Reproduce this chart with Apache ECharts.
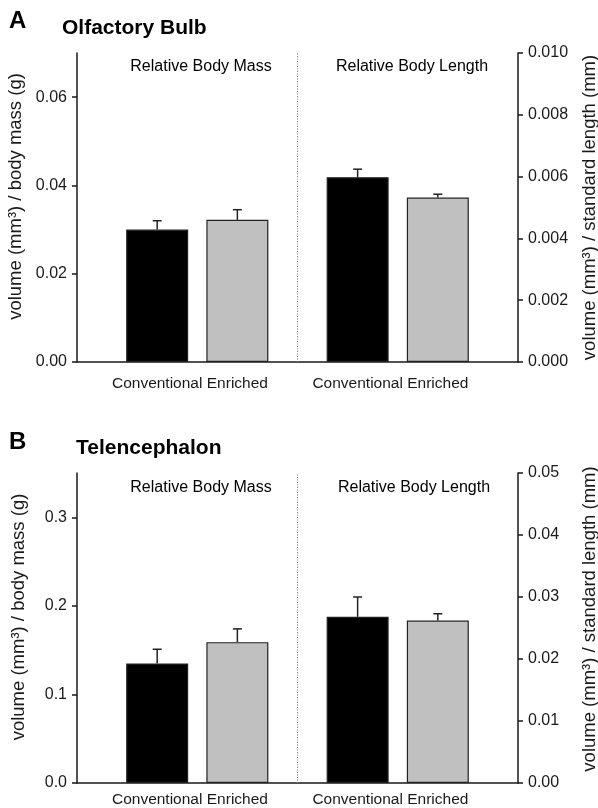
<!DOCTYPE html>
<html><head><meta charset="utf-8">
<script src="https://cdn.jsdelivr.net/npm/echarts@6/dist/echarts.min.js"></script>
<style>html,body{margin:0;padding:0;background:#fff}#c{width:598px;height:808px}</style>
</head><body><div id="c"></div>
<script>
const categories = ['Conventional', 'Enriched'];
const groupTitles = ['Relative Body Mass', 'Relative Body Length'];
const panelLetters = ['A', 'B'];
const panelTitles = ['Olfactory Bulb', 'Telencephalon'];
const leftAxisName = 'volume (mm³) / body mass (g)';
const rightAxisName = 'volume (mm³) / standard length (mm)';

// Panel A: Olfactory Bulb
const obMassMean = [0.0300, 0.0322];
const obMassErr = [0.0020, 0.0023];
const obLengthMean = [0.00598, 0.00532];
const obLengthErr = [0.00026, 0.00011];
// Panel B: Telencephalon
const telMassMean = [0.135, 0.159];
const telMassErr = [0.016, 0.015];
const telLengthMean = [0.0268, 0.0262];
const telLengthErr = [0.0032, 0.0011];

// tick labels
const leftTicksA = [0, 0.02, 0.04, 0.06];
const rightTicksA = [0, 0.002, 0.004, 0.006, 0.008, 0.010];
const leftTicksB = [0, 0.1, 0.2, 0.3];
const rightTicksB = [0, 0.01, 0.02, 0.03, 0.04, 0.05];
const leftMax = [0.07, 0.35];
const rightMax = [0.010, 0.05];
const leftDecimals = [2, 1];
const rightDecimals = [3, 2];

const panels = [
  { mass: [obMassMean, obMassErr], length: [obLengthMean, obLengthErr], lt: leftTicksA, rt: rightTicksA },
  { mass: [telMassMean, telMassErr], length: [telLengthMean, telLengthErr], lt: leftTicksB, rt: rightTicksB }
];

const FONT = 'Liberation Sans, Arial, Helvetica, sans-serif';
const INK = '#1a1a1a';
const barColors = ['#000000', '#c0c0c0'];
const slot = (g, i) => 1 + i + g * 2.5;
const slotValues = [slot(0,0), slot(0,1), slot(1,0), slot(1,1)];
const divider = 2.75;
const catMargins = [14, 9];

const grids = [
  { left: 77, right: 80, top: 53, height: 309, containLabel: false, outerBoundsMode: 'none' },
  { left: 77, right: 80, top: 473, height: 310, containLabel: false, outerBoundsMode: 'none' }
];

const xAxes = [], yAxes = [], series = [];
panels.forEach((p, pi) => {
  xAxes.push({
    type: 'value', gridIndex: pi, min: 0, max: 5.5,
    axisLine: { show: true, lineStyle: { color: INK, width: 1.5 } },
    axisTick: { show: false }, splitLine: { show: false },
    axisLabel: {
      customValues: slotValues, margin: catMargins[pi], color: INK, fontFamily: FONT, fontSize: 15.5,
      formatter: v => categories[Math.round(v < divider ? v - 1 : v - 3.5)]
    }
  });
  yAxes.push({
    type: 'value', gridIndex: pi, position: 'left', min: 0, max: leftMax[pi],
    axisLine: { show: true, lineStyle: { color: INK, width: 1.5 } },
    axisTick: { show: true, customValues: p.lt, length: 5, lineStyle: { color: INK, width: 1.5 } },
    axisLabel: { customValues: p.lt, color: INK, fontFamily: FONT, fontSize: 16, margin: 10,
      formatter: v => v.toFixed(leftDecimals[pi]) },
    splitLine: { show: false },
    name: leftAxisName, nameLocation: 'middle', nameGap: 49,
    nameTextStyle: { color: INK, fontFamily: FONT, fontSize: 18.5, padding: [0, 0, 0, 22] }
  });
  yAxes.push({
    type: 'value', gridIndex: pi, position: 'right', min: 0, max: rightMax[pi],
    axisLine: { show: true, lineStyle: { color: INK, width: 1.5 } },
    axisTick: { show: true, customValues: p.rt, length: 5, lineStyle: { color: INK, width: 1.5 } },
    axisLabel: { customValues: p.rt, color: INK, fontFamily: FONT, fontSize: 16, margin: 10,
      formatter: v => v.toFixed(rightDecimals[pi]) },
    splitLine: { show: false },
    name: rightAxisName, nameLocation: 'middle', nameGap: 62,
    nameTextStyle: { color: INK, fontFamily: FONT, fontSize: 18.5, padding: [0, 0, 0, pi === 1 ? 18 : 0] }
  });
  [p.mass, p.length].forEach((grp, g) => {
    const [mean, err] = grp;
    categories.forEach((c, i) => {
      const s = {
        type: 'bar', name: c, xAxisIndex: pi, yAxisIndex: 2 * pi + g,
        barWidth: 62, barGap: '-100%', z: 2,
        data: [[slot(g, i), mean[i]]],
        itemStyle: { color: barColors[i], borderColor: '#222', borderWidth: 1.2 },
        silent: true
      };
      if (g === 0 && i === 0) {
        s.markLine = {
          silent: true, symbol: 'none', label: { show: false },
          lineStyle: { type: [1, 1.5], color: '#7a7a7a', width: 1 },
          data: [{ xAxis: divider }]
        };
      }
      series.push(s);
    });
    series.push({
      type: 'custom', xAxisIndex: pi, yAxisIndex: 2 * pi + g, z: 3, silent: true,
      data: categories.map((c, i) => [slot(g, i), mean[i], err[i]]),
      renderItem(params, api) {
        const x = api.value(0), m = api.value(1), e = api.value(2);
        const p0 = api.coord([x, m]), p1 = api.coord([x, m + e]);
        const st = { stroke: '#222', lineWidth: 1.5 };
        return { type: 'group', children: [
          { type: 'line', shape: { x1: p0[0], y1: p0[1], x2: p1[0], y2: p1[1] }, style: st },
          { type: 'line', shape: { x1: p1[0] - 4.5, y1: p1[1], x2: p1[0] + 4.5, y2: p1[1] }, style: st }
        ]};
      }
    });
  });
});

const txt = (s, x, y, size, bold, align) => ({
  type: 'text', x: x, y: y, silent: true,
  style: { text: s, fill: '#000', font: (bold ? 'bold ' : '') + size + 'px ' + FONT,
    align: align || 'left', verticalAlign: 'middle' }
});

const graphic = [
  txt(panelLetters[0], 9, 21, 24, true),
  txt(panelTitles[0], 62, 28, 21, true),
  txt(groupTitles[0], 201, 67, 16, false, 'center'),
  txt(groupTitles[1], 412, 67, 16, false, 'center'),
  txt(panelLetters[1], 9, 442, 24, true),
  txt(panelTitles[1], 76, 448, 21, true),
  txt(groupTitles[0], 201, 488, 16, false, 'center'),
  txt(groupTitles[1], 414, 488, 16, false, 'center')
];

const chart = echarts.init(document.getElementById('c'), null, { renderer: 'canvas' });
chart.setOption({
  animation: false,
  backgroundColor: '#fff',
  grid: grids, xAxis: xAxes, yAxis: yAxes, series: series, graphic: graphic
});
</script></body></html>
